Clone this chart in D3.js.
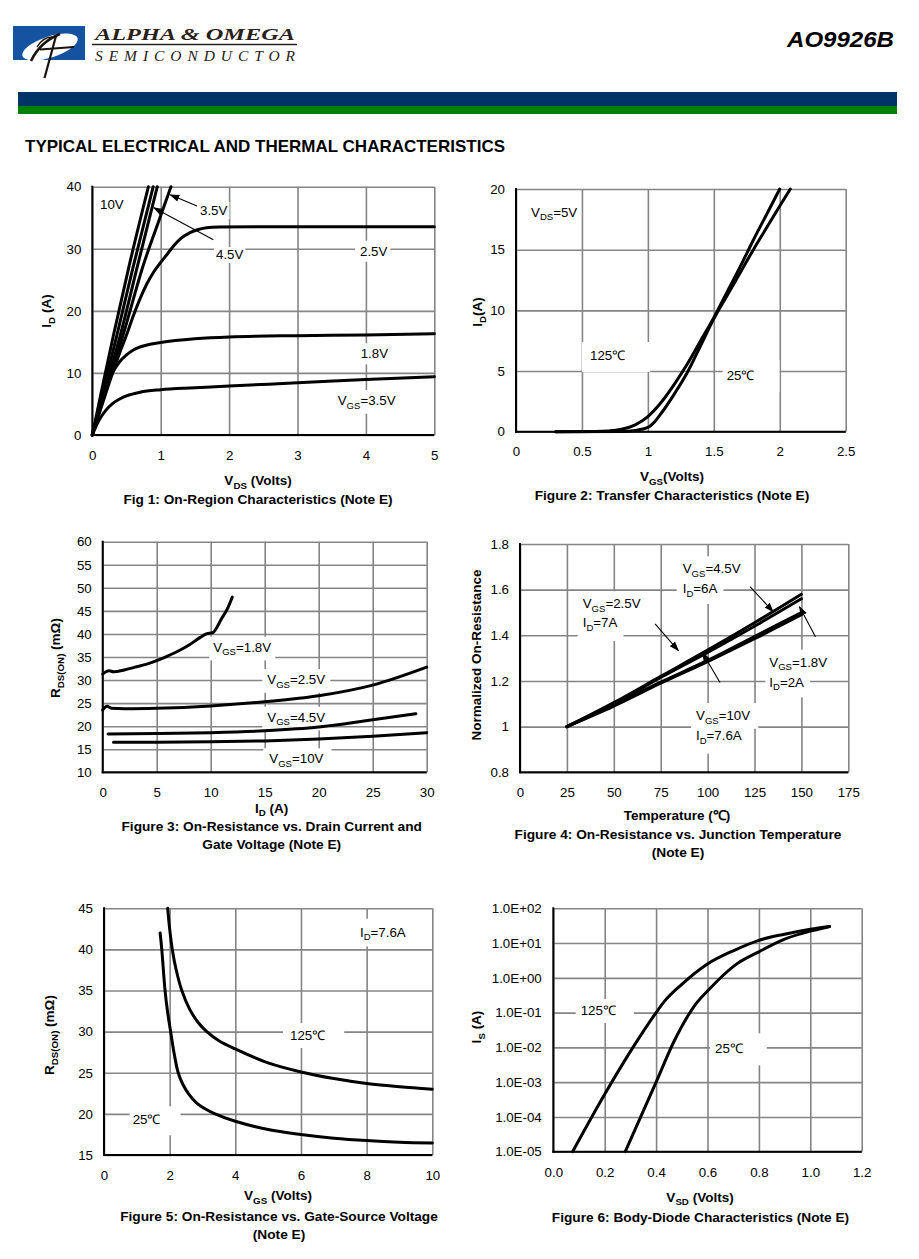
<!DOCTYPE html>
<html><head><meta charset="utf-8">
<script src="https://cdn.jsdelivr.net/npm/d3@7"></script>
<style>body{margin:0;background:#fff}svg{display:block}</style>
</head><body><svg id="c" width="919" height="1259"></svg>
<script>
// ---------------- DATA ----------------
// Fig 1: On-region characteristics  [VDS, ID]
const f1XTicks = [0,1,2,3,4,5];
const f1YTicks = [0,10,20,30,40];
const f1_vgs10 = [[0,0],[0.15,7.9],[0.31,16.1],[0.55,27.8],[0.82,40]];
const f1_vgs6  = [[0,0],[0.18,8.1],[0.36,16.1],[0.6,27.2],[0.89,40]];
const f1_vgs45 = [[0,0],[0.2,7.9],[0.41,16.1],[0.66,27.2],[0.95,40]];
const f1_vgs35 = [[0,0],[0.22,7.9],[0.45,16.1],[0.75,27.5],[0.95,33.8],[1.15,40]];
const f1_vgs25 = [[0,0],[0.1,3.4],[0.2,6.8],[0.3,10.1],[0.4,13.2],[0.5,16.1],[0.6,19.2],[0.7,22],[0.8,24.4],[0.9,26.3],[1.0,27.8],[1.1,29.2],[1.2,30.6],[1.3,31.7],[1.43,32.6],[1.55,33.1],[1.67,33.4],[1.85,33.5],[2.5,33.55],[5,33.55]];
const f1_vgs18 = [[0,0],[0.1,4.2],[0.2,7.6],[0.3,10.1],[0.4,11.8],[0.5,12.9],[0.6,13.7],[0.8,14.5],[1,14.9],[1.5,15.5],[2,15.8],[3,16],[4,16.1],[5,16.3]];
const f1_vgsLow = [[0,0],[0.1,2.4],[0.2,4],[0.3,5.1],[0.4,5.8],[0.5,6.3],[0.7,6.9],[1,7.3],[1.5,7.6],[2,7.9],[3,8.4],[4,8.95],[5,9.4]];

// Fig 2: Transfer characteristics [VGS, ID]
const f2XTicks = [0,0.5,1,1.5,2,2.5];
const f2YTicks = [0,5,10,15,20];
const f2_t125 = [[0.3,0],[0.6,0.02],[0.7,0.06],[0.8,0.2],[0.9,0.55],[1.0,1.25],[1.1,2.4],[1.2,3.9],[1.3,5.6],[1.4,7.5],[1.5,9.4],[1.6,11.5],[1.7,13.6],[1.8,15.8],[1.9,17.9],[2.0,20]];
const f2_t25  = [[0.3,0],[0.8,0.02],[0.9,0.1],[1.0,0.35],[1.05,0.8],[1.1,1.5],[1.2,3.1],[1.3,4.9],[1.4,7.1],[1.5,9.3],[1.6,11.2],[1.7,13.1],[1.8,15],[1.9,16.8],[2.0,18.6],[2.08,20]];

// Fig 3: RDS(ON) vs ID [ID, mOhm]
const f3XTicks = [0,5,10,15,20,25,30];
const f3YTicks = [10,15,20,25,30,35,40,45,50,55,60];
const f3_vgs18 = [[0,31.3],[0.3,31.8],[0.6,32],[1,31.8],[2,32.2],[3,32.8],[4,33.4],[5,34.2],[6,35.2],[7,36.3],[8,37.6],[9,39.2],[9.6,40],[10.2,40.3],[11,43.3],[11.6,45.7],[12,48]];
const f3_vgs25 = [[0,23.5],[0.4,24.3],[0.8,23.9],[2,23.8],[5,23.9],[10,24.4],[15,25.3],[20,26.6],[25,28.9],[30,32.8]];
const f3_vgs45 = [[0.5,18.3],[5,18.4],[10,18.6],[15,19.0],[20,19.8],[25,21.4],[29,22.7]];
const f3_vgs10 = [[1,16.5],[5,16.5],[10,16.6],[15,16.8],[20,17.2],[25,17.8],[30,18.6]];

// Fig 4: Normalized RDS(ON) vs temperature [Tj, norm]
const f4XTicks = [0,25,50,75,100,125,150,175];
const f4YTicks = [0.8,1,1.2,1.4,1.6,1.8];
const f4_vgs45 = [[25,1],[50,1.105],[75,1.22],[100,1.335],[125,1.455],[150,1.58]];
const f4_vgs25 = [[25,1],[50,1.10],[75,1.215],[100,1.325],[125,1.44],[150,1.56]];
const f4_vgs18 = [[25,1],[50,1.095],[75,1.195],[100,1.29],[125,1.395],[150,1.50]];
const f4_vgs10 = [[25,1],[50,1.09],[75,1.19],[100,1.285],[125,1.385],[150,1.49]];

// Fig 5: RDS(ON) vs VGS [VGS, mOhm]
const f5XTicks = [0,2,4,6,8,10];
const f5YTicks = [15,20,25,30,35,40,45];
const f5_t25  = [[1.71,42],[1.76,40],[1.86,35],[1.94,32.3],[2.03,30],[2.13,27.5],[2.26,25],[2.4,23.6],[2.6,22.3],[2.8,21.4],[3,20.8],[3.33,20.1],[4,19.1],[5,18.1],[6,17.5],[7,17.05],[8,16.75],[9,16.55],[10,16.45]];
const f5_t125 = [[1.94,45],[2.0,42.5],[2.08,40],[2.2,37.5],[2.37,35],[2.6,32.8],[2.85,31.2],[3.13,30],[3.5,28.9],[4,27.9],[5,26.2],[6,25.1],[7,24.3],[8,23.7],[9,23.3],[10,23.0]];

// Fig 6: Body diode [VSD, IS]
const f6XTicks = [0,0.2,0.4,0.6,0.8,1.0,1.2];
const f6YTicks = [1e-5,1e-4,1e-3,1e-2,1e-1,1,10,100];
const f6YLabels = ["1.0E-05","1.0E-04","1.0E-03","1.0E-02","1.0E-01","1.0E+00","1.0E+01","1.0E+02"];
const f6_t125 = [[0.075,1e-5],[0.2,4.5e-4],[0.31,1e-2],[0.4,0.1],[0.43,0.2],[0.5,0.65],[0.6,2.5],[0.7,6],[0.8,12],[0.9,18],[1.0,25],[1.075,30]];
const f6_t25  = [[0.28,1e-5],[0.4,1e-3],[0.47,1.5e-2],[0.56,0.2],[0.6,0.42],[0.71,2.4],[0.8,5.6],[0.9,13],[1.0,22],[1.075,30]];

// ---------------- DRAWING ----------------
const svg = d3.select("#c");
const FONT = "'Liberation Sans', Arial, Helvetica, sans-serif";
const GRID = "#858585", GW = 1.6;
const TICK = 13.3, LBL = 13.3, TITLE = 13.5, CAP = 13.7;

function rich(t, s, size){
  const parts = s.split(/(_\{[^}]*\})/);
  let sub = false;
  parts.forEach(p=>{
    if(!p) return;
    if(p.startsWith("_{")){
      t.append("tspan").attr("font-size", size*0.72).attr("dy", size*0.28).text(p.slice(2,-1));
      sub = true;
    } else {
      const ts = t.append("tspan").text(p);
      if(sub){ ts.attr("dy", -size*0.28); sub=false; }
    }
  });
}

function text(g, x, y, s, o={}){
  const size = o.size || LBL;
  const t = g.append("text").attr("x",x).attr("y",y)
    .attr("font-family", o.family || FONT).attr("font-size", size)
    .attr("font-weight", o.bold ? "bold":"normal")
    .attr("text-anchor", o.anchor || "start").attr("fill", "#000");
  if(o.rot){ t.attr("x",0).attr("y",0).attr("transform",`translate(${x},${y}) rotate(-90)`); }
  rich(t, s, size);
  if(o.box){
    const b = t.node().getBBox(), p = o.box;
    g.insert("rect", ()=>t.node()).attr("x", b.x-p[0]).attr("y", b.y-p[2])
      .attr("width", b.width+p[0]+p[1]).attr("height", b.height+p[2]+p[3]).attr("fill","#fff");
  }
  return t;
}

function chart(o){
  const g = svg.append("g");
  const x = d3.scaleLinear().domain(o.xd).range([o.l,o.r]);
  const y = (o.log ? d3.scaleLog() : d3.scaleLinear()).domain(o.yd).range([o.b,o.t]);
  const gridStyle = s => { s.select(".domain").remove(); s.selectAll("line").attr("stroke",GRID).attr("stroke-width",GW); };
  g.append("g").attr("transform",`translate(0,${o.b})`)
    .call(d3.axisBottom(x).tickValues(o.xt).tickSize(-(o.b-o.t)).tickFormat("")).call(gridStyle);
  g.append("g").attr("transform",`translate(${o.l},0)`)
    .call(d3.axisLeft(y).tickValues(o.yt).tickSize(-(o.r-o.l)).tickFormat("")).call(gridStyle);
  const lblStyle = s => { s.select(".domain").remove(); s.selectAll("text").attr("font-family",FONT).attr("font-size",TICK).attr("fill","#000"); };
  g.append("g").attr("transform",`translate(0,${o.b})`)
    .call(d3.axisBottom(x).tickValues(o.xt).tickSize(0).tickPadding(o.xpad||15.2).tickFormat(o.xf||(d=>d))).call(lblStyle);
  g.append("g").attr("transform",`translate(${o.l},0)`)
    .call(d3.axisLeft(y).tickValues(o.yt).tickSize(0).tickPadding(o.ypad||11).tickFormat(o.yf||(d=>d))).call(lblStyle);
  const labels = g.append("g"), curves = g.append("g"), top = g.append("g");
  top.append("line").attr("x1",o.l).attr("x2",o.l).attr("y1",o.t-1).attr("y2",o.b+1).attr("stroke","#000").attr("stroke-width",2);
  top.append("line").attr("x1",o.l-1).attr("x2",o.r).attr("y1",o.b).attr("y2",o.b).attr("stroke","#000").attr("stroke-width",2);
  return {x,y,g,labels,curves,top};
}

function curve(c, data, w, cv){
  c.curves.append("path").datum(data)
    .attr("d", d3.line().x(d=>c.x(d[0])).y(d=>c.y(d[1])).curve(cv || d3.curveMonotoneX))
    .attr("fill","none").attr("stroke","#000").attr("stroke-width", w||3)
    .attr("stroke-linejoin","round").attr("stroke-linecap","round");
}

svg.append("defs").append("marker").attr("id","arr").attr("markerUnits","userSpaceOnUse")
  .attr("markerWidth",10).attr("markerHeight",8).attr("refX",9).attr("refY",3.5).attr("orient","auto")
  .append("path").attr("d","M0,0 L10,3.5 L0,7 Z").attr("fill","#000");

function arrow(c, from, to){
  c.top.append("line").attr("x1",c.x(from[0])).attr("y1",c.y(from[1]))
    .attr("x2",c.x(to[0])).attr("y2",c.y(to[1])).attr("stroke","#000").attr("stroke-width",1.1)
    .attr("marker-end","url(#arr)");
}

// ---------- Header ----------
svg.append("rect").attr("x",13).attr("y",26).attr("width",72).attr("height",34).attr("fill","#1553a1");
svg.append("ellipse").attr("cx",50).attr("cy",47).attr("rx",29).attr("ry",10.5)
  .attr("transform","rotate(-18,50,47)").attr("fill","#fff");
svg.append("path").attr("d","M31,61 Q40,42 60,34").attr("fill","none").attr("stroke","#1a140e").attr("stroke-width",2.6);
svg.append("path").attr("d","M37,47 Q43,37 52,37").attr("fill","none").attr("stroke","#1a140e").attr("stroke-width",1.4);
svg.append("line").attr("x1",56).attr("y1",36).attr("x2",44.5).attr("y2",78).attr("stroke","#1a140e").attr("stroke-width",2.2);
svg.append("line").attr("x1",40).attr("y1",49.5).attr("x2",74).attr("y2",47).attr("stroke","#1a140e").attr("stroke-width",1.8);
const SERIF = "'Liberation Serif','Times New Roman',serif";
svg.append("text").attr("x",95).attr("y",40).attr("font-family",SERIF).attr("font-size",16.5)
  .attr("font-weight","bold").attr("font-style","italic").attr("fill","#2a2018")
  .attr("textLength",200).attr("lengthAdjust","spacingAndGlyphs").text("ALPHA & OMEGA");
svg.append("line").attr("x1",92).attr("x2",297).attr("y1",44.5).attr("y2",44.5).attr("stroke","#2a2018").attr("stroke-width",1.3);
svg.append("text").attr("x",95).attr("y",60.5).attr("font-family",SERIF).attr("font-size",15.5)
  .attr("font-style","italic").attr("fill","#2a2018")
  .attr("textLength",200).attr("lengthAdjust","spacing").text("SEMICONDUCTOR");
svg.append("text").attr("x",787).attr("y",46.5).attr("font-family",FONT)
  .attr("font-size",21.5).attr("font-weight","bold").attr("font-style","italic")
  .attr("textLength",107).attr("lengthAdjust","spacingAndGlyphs").text("AO9926B");
svg.append("rect").attr("x",18).attr("y",92).attr("width",879).attr("height",14).attr("fill","#003366");
svg.append("rect").attr("x",18).attr("y",106).attr("width",879).attr("height",8).attr("fill","#008000");
svg.append("text").attr("x",25).attr("y",152).attr("font-family",FONT).attr("font-size",16.3)
  .attr("font-weight","bold").attr("textLength",480).attr("lengthAdjust","spacingAndGlyphs")
  .text("TYPICAL ELECTRICAL AND THERMAL CHARACTERISTICS");

const TT = {bold:true, size:TITLE}, CC = {bold:true, size:CAP, anchor:"middle"};
// ---------- Fig 1 ----------
const c1 = chart({l:92.3,r:434.3,t:186.7,b:435,xd:[0,5],yd:[0,40],xt:f1XTicks,yt:f1YTicks,xpad:15.8});
text(c1.labels,100,208.8,"10V");
text(c1.labels,200,215,"3.5V",{box:[2,2,1,1]});
text(c1.labels,216,259,"4.5V",{box:[2,2,0,1]});
text(c1.labels,360,255.7,"2.5V",{box:[5,3,3,3]});
text(c1.labels,360.7,358.3,"1.8V",{box:[4,3,3,3]});
text(c1.labels,337.7,405,"V_{GS}=3.5V",{box:[3,3,3,3]});
[f1_vgs10,f1_vgs6,f1_vgs45,f1_vgs35,f1_vgs25,f1_vgs18,f1_vgsLow].forEach(d=>curve(c1,d));
arrow(c1,[1.53,36.9],[1.14,38.7]);
arrow(c1,[1.77,31.45],[0.9,36.6]);
text(svg,51,311,"I_{D} (A)",{...TT,rot:true,anchor:"middle"});
text(svg,258,485,"V_{DS} (Volts)",{...TT,anchor:"middle"});
text(svg,258,504,"Fig 1: On-Region Characteristics (Note E)",CC);

// ---------- Fig 2 ----------
const c2 = chart({l:516,r:845.7,t:189,b:431.7,xd:[0,2.5],yd:[0,20],xt:f2XTicks,yt:f2YTicks});
text(c2.labels,531,216.7,"V_{DS}=5V",{box:[3,3,4,4]});
text(c2.labels,590,360,"125\u2103",{box:[8,25,6,9]});
text(c2.labels,726.7,380,"25\u2103",{box:[4,25,8,9]});
curve(c2,f2_t125); curve(c2,f2_t25);
text(svg,482,312,"I_{D}(A)",{...TT,rot:true,anchor:"middle"});
text(svg,672,481,"V_{GS}(Volts)",{...TT,anchor:"middle"});
text(svg,672,500,"Figure 2: Transfer Characteristics (Note E)",CC);

// ---------- Fig 3 ----------
const c3 = chart({l:102.7,r:426.7,t:541.7,b:772.3,xd:[0,30],yd:[10,60],xt:f3XTicks,yt:f3YTicks});
text(c3.labels,213.3,651.7,"V_{GS}=1.8V",{box:[4,4,3,3]});
text(c3.labels,267.3,684,"V_{GS}=2.5V",{box:[5,5,3,3]});
text(c3.labels,267.3,721.7,"V_{GS}=4.5V",{box:[5,5,3,3]});
text(c3.labels,269.3,763.3,"V_{GS}=10V",{box:[6,8,3,3]});
[f3_vgs18,f3_vgs25,f3_vgs45,f3_vgs10].forEach(d=>curve(c3,d));
text(svg,60,658,"R_{DS(ON)} (m\u03A9)",{...TT,rot:true,anchor:"middle"});
text(svg,271.7,812.7,"I_{D} (A)",{...TT,anchor:"middle"});
text(svg,271.7,831,"Figure 3: On-Resistance vs. Drain Current and",CC);
text(svg,271.7,849,"Gate Voltage (Note E)",CC);

// ---------- Fig 4 ----------
const c4 = chart({l:520,r:848.3,t:544,b:772.3,xd:[0,175],yd:[0.8,1.8],xt:f4XTicks,yt:f4YTicks});
text(c4.labels,682.7,573.3,"V_{GS}=4.5V",{box:[6,6,5,3]});
text(c4.labels,682.7,593.3,"I_{D}=6A",{box:[6,6,3,5]});
text(c4.labels,582.7,608.3,"V_{GS}=2.5V",{box:[5,6,5,3]});
text(c4.labels,582.7,627.3,"I_{D}=7A",{box:[5,6,3,8]});
text(c4.labels,769.3,666.7,"V_{GS}=1.8V",{box:[4,6,5,3]});
text(c4.labels,769.3,686.7,"I_{D}=2A",{box:[4,6,3,5]});
text(c4.labels,696,720,"V_{GS}=10V",{box:[5,8,5,3]});
text(c4.labels,696,740,"I_{D}=7.6A",{box:[5,8,3,8]});
[f4_vgs45,f4_vgs25,f4_vgs18,f4_vgs10].forEach(d=>curve(c4,d,3));
arrow(c4,[122.6,1.613],[135,1.503]);
arrow(c4,[72,1.45],[84.4,1.333]);
arrow(c4,[157.5,1.394],[149,1.525]);
arrow(c4,[106.6,1.193],[97.2,1.325]);
text(svg,481,655,"Normalized On-Resistance",{...TT,rot:true,anchor:"middle"});
text(svg,677,820,"Temperature (\u2103)",{...TT,anchor:"middle"});
text(svg,678,838.5,"Figure 4: On-Resistance vs. Junction Temperature",CC);
text(svg,678,856.5,"(Note E)",CC);

// ---------- Fig 5 ----------
const c5 = chart({l:104,r:432.3,t:908.3,b:1155,xd:[0,10],yd:[15,45],xt:f5XTicks,yt:f5YTicks,xpad:15.8});
text(c5.labels,360,936.7,"I_{D}=7.6A",{box:[3,3,6,4]});
text(c5.labels,290,1040,"125\u2103",{box:[7,19,5,5]});
text(c5.labels,132.7,1124.3,"25\u2103",{box:[3,20,6,8]});
curve(c5,f5_t25,3,d3.curveCatmullRom.alpha(0.5)); curve(c5,f5_t125,3,d3.curveCatmullRom.alpha(0.5));
text(svg,54,1035,"R_{DS(ON)} (m\u03A9)",{...TT,rot:true,anchor:"middle"});
text(svg,278,1200,"V_{GS} (Volts)",{...TT,anchor:"middle"});
text(svg,279,1221,"Figure 5: On-Resistance vs. Gate-Source Voltage",CC);
text(svg,279,1239,"(Note E)",CC);

// ---------- Fig 6 ----------
const c6 = chart({l:553.3,r:861.7,t:908.3,b:1151.7,xd:[0,1.2],yd:[1e-5,100],log:true,
  xt:f6XTicks,yt:f6YTicks,xf:d3.format(".1f"),yf:(d,i)=>f6YLabels[i],ypad:11.6,xpad:15.8});
text(c6.labels,580.7,1015,"125\u2103",{box:[5,18,4,5]});
text(c6.labels,715,1053.3,"25\u2103",{box:[5,24,8,9]});
curve(c6,f6_t125); curve(c6,f6_t25);
text(svg,481,1027,"I_{S} (A)",{...TT,rot:true,anchor:"middle"});
text(svg,700,1201.7,"V_{SD} (Volts)",{...TT,anchor:"middle"});
text(svg,700.5,1221.7,"Figure 6: Body-Diode Characteristics (Note E)",CC);
</script></body></html>
